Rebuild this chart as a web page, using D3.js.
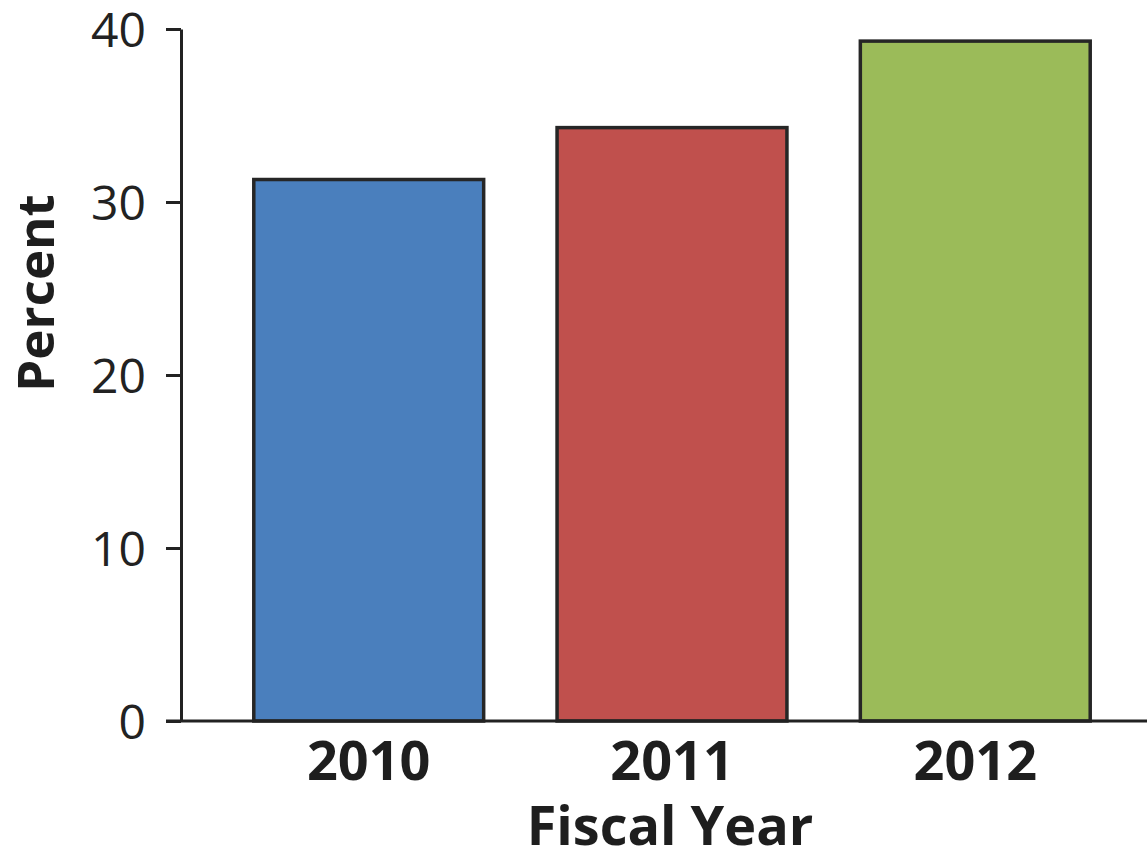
<!DOCTYPE html>
<html>
<head>
<meta charset="utf-8">
<script src="https://cdn.jsdelivr.net/npm/d3@7"></script>
<style>
  html, body { margin: 0; padding: 0; background: #fff; }
  svg { display: block; }
</style>
</head>
<body>
<svg id="chart" width="1147" height="851"></svg>
<script>
const categories = ["2010", "2011", "2012"];
const values = [31.3, 34.3, 39.3];
const colors = ["#4a7fbd", "#c0504d", "#9bbb59"];
const yTicks = [0, 10, 20, 30, 40];
const yLabel = "Percent";
const xLabel = "Fiscal Year";

const svg = d3.select("#chart");
const W = 1147, H = 851;
const x0 = 181, yBase = 721, yTop = 29;

const x = d3.scaleBand().domain(categories).range([x0, 1163]).paddingInner(0.242).paddingOuter(0.24);
const y = d3.scaleLinear().domain([0, 40]).range([yBase, yTop]);

// bars
svg.append("g").selectAll("rect")
  .data(categories)
  .join("rect")
  .attr("x", d => x(d))
  .attr("y", (d, i) => y(values[i]))
  .attr("width", x.bandwidth())
  .attr("height", (d, i) => y(0) - y(values[i]))
  .attr("fill", (d, i) => colors[i])
  .attr("stroke", "#262626")
  .attr("stroke-width", 3.5);

// y axis
const yAxis = d3.axisLeft(y).tickValues(yTicks).tickSize(15).tickPadding(20).tickSizeOuter(0);
const gy = svg.append("g").attr("transform", `translate(${x0},0)`).call(yAxis);
gy.select(".domain").attr("stroke", "#222").attr("stroke-width", 3);
gy.selectAll(".tick line").attr("stroke", "#222").attr("stroke-width", 3);
gy.selectAll(".tick text")
  .attr("fill", "#222")
  .attr("dy", "0.36em")
  .style("font-family", "'Open Sans', sans-serif")
  .style("font-size", "48px")
  .style("font-weight", "400");

// x baseline
svg.append("line")
  .attr("x1", 166).attr("x2", W)
  .attr("y1", y(0)).attr("y2", y(0))
  .attr("stroke", "#222").attr("stroke-width", 3);

// x axis labels
const xAxis = d3.axisBottom(x).tickSize(0).tickPadding(20);
const gx = svg.append("g").attr("transform", `translate(0,${yBase})`).call(xAxis);
gx.select(".domain").remove();
gx.selectAll(".tick text")
  .attr("fill", "#1e1e1e")
  .attr("dy", "0")
  .attr("y", 59)
  .style("font-family", "'Open Sans', sans-serif")
  .style("font-size", "54px")
  .style("font-weight", "700");

// axis titles
svg.append("text")
  .attr("transform", `translate(54,293) rotate(-90)`)
  .attr("text-anchor", "middle")
  .attr("fill", "#1e1e1e")
  .style("font-family", "'Open Sans', sans-serif")
  .style("font-size", "51px")
  .style("font-weight", "700")
  .text(yLabel);

svg.append("text")
  .attr("x", 670).attr("y", 845)
  .attr("text-anchor", "middle")
  .attr("fill", "#1e1e1e")
  .style("font-family", "'Open Sans', sans-serif")
  .style("font-size", "54px")
  .style("font-weight", "700")
  .text(xLabel);
</script>
</body>
</html>
